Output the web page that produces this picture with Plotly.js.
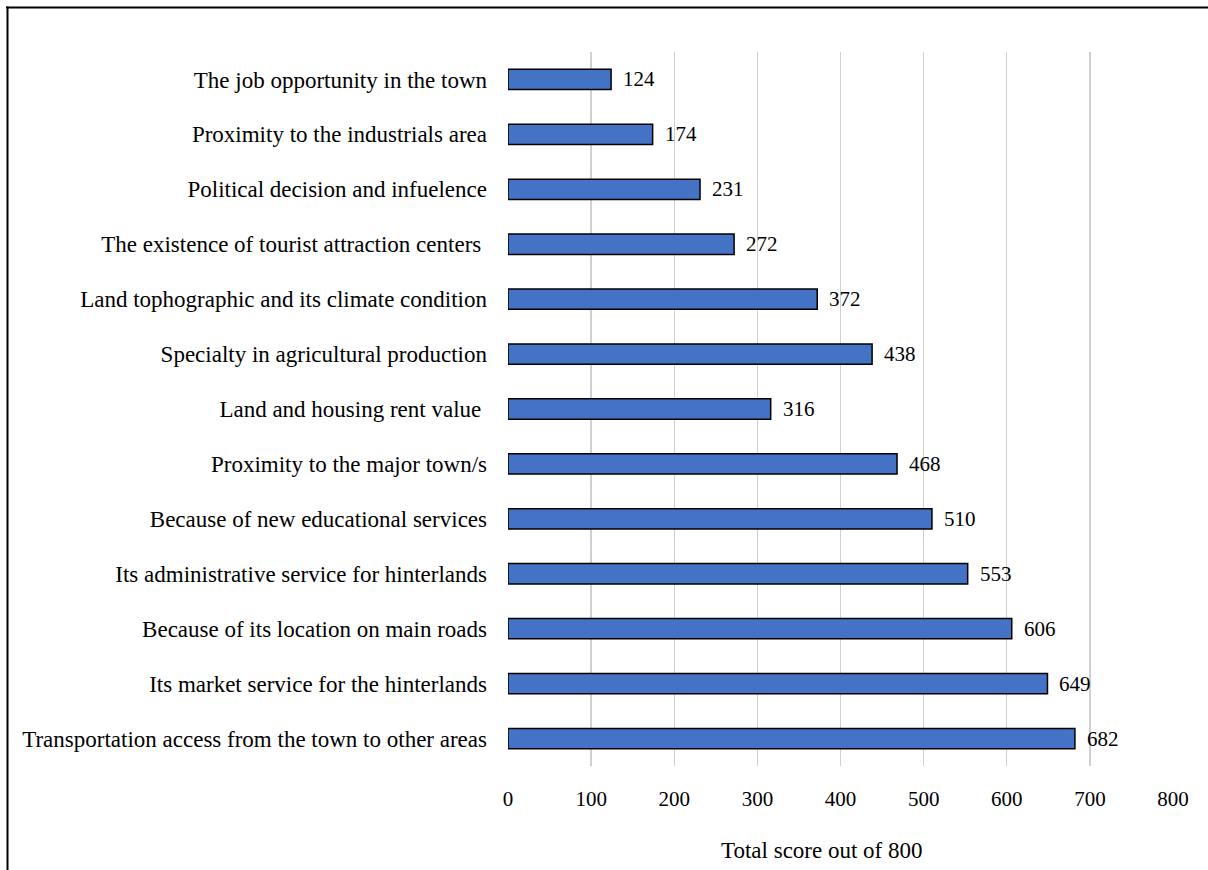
<!DOCTYPE html>
<html>
<head>
<meta charset="utf-8">
<script src="https://cdn.plot.ly/plotly-3.0.1.min.js"></script>
<style>html,body{margin:0;padding:0;background:#fff;}</style>
</head>
<body>
<div id="chart" style="width:1208px;height:870px;"></div>
<script>
const categories = [
  "The job opportunity in the town",
  "Proximity to the industrials area",
  "Political decision and infuelence",
  "The existence of tourist attraction centers ",
  "Land tophographic and its climate condition",
  "Specialty in agricultural production",
  "Land and housing rent value ",
  "Proximity to the major town/s",
  "Because of new educational services",
  "Its administrative service for hinterlands",
  "Because of its location on main roads",
  "Its market service for the hinterlands",
  "Transportation access from the town to other areas"
];
const scores = [124, 174, 231, 272, 372, 438, 316, 468, 510, 553, 606, 649, 682];
const tickValues = [0, 100, 200, 300, 400, 500, 600, 700, 800];
const xTitle = "Total score out of 800";

const FONT = "'Liberation Serif', 'Times New Roman', serif";

const trace = {
  type: 'bar',
  orientation: 'h',
  y: categories,
  x: scores,
  width: 0.37,
  marker: {color: '#4472C4', line: {color: '#000000', width: 1.5}},
  hoverinfo: 'none'
};

const valueLabels = categories.map((c, i) => ({
  x: scores[i], y: c, xref: 'x', yref: 'y',
  text: String(scores[i]), showarrow: false,
  xanchor: 'left', xshift: 10,
  font: {family: FONT, size: 21, color: '#000'}
}));

const layout = {
  width: 1208, height: 870,
  margin: {l: 508, r: 35, t: 51.5, b: 103.5, pad: 0},
  paper_bgcolor: '#fff', plot_bgcolor: '#fff',
  showlegend: false,
  font: {family: FONT, size: 21, color: '#000'},
  xaxis: {
    range: [0, 800], tickvals: tickValues, ticktext: tickValues.map(String),
    showgrid: true, gridcolor: '#d0d0d0', gridwidth: 1.3,
    zeroline: false, showline: false, ticks: '',
    ticklabelstandoff: 18,
    tickfont: {family: FONT, size: 21, color: '#000'},
    fixedrange: true
  },
  yaxis: {
    type: 'category', autorange: 'reversed',
    showgrid: false, zeroline: false, showline: false, ticks: '',
    ticklabelstandoff: 20,
    tickfont: {family: FONT, size: 23, color: '#000'},
    fixedrange: true
  },
  annotations: valueLabels.concat([{
    xref: 'paper', yref: 'paper', x: (822 - 508) / 665, y: (766.5 - 851) / 715,
    text: xTitle, showarrow: false, xanchor: 'center', yanchor: 'middle',
    font: {family: FONT, size: 23, color: '#000'}
  }]),
  shapes: [
    {type: 'line', xref: 'paper', yref: 'paper',
     x0: (6 - 508) / 665, x1: (1210 - 508) / 665, y0: (766.5 - 7) / 715, y1: (766.5 - 7) / 715,
     line: {color: '#000', width: 2}},
    {type: 'line', xref: 'paper', yref: 'paper',
     x0: (7.5 - 508) / 665, x1: (7.5 - 508) / 665, y0: (766.5 - 6) / 715, y1: (766.5 - 875) / 715,
     line: {color: '#000', width: 2}}
  ]
};

Plotly.newPlot('chart', [trace], layout, {staticPlot: true, displayModeBar: false});
</script>
</body>
</html>
